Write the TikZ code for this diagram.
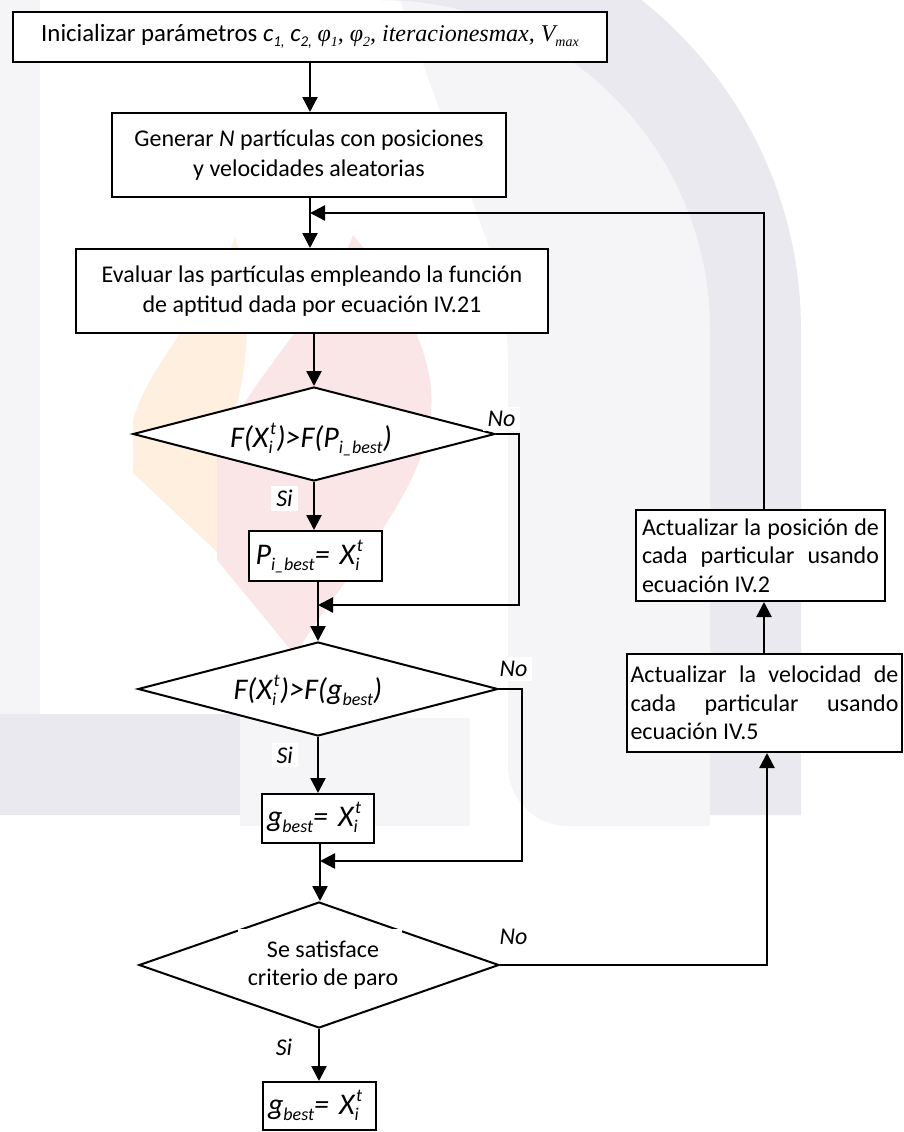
\documentclass[tikz,border=0pt]{standalone}
\usepackage{fontspec}
\setmainfont{Carlito}
\newfontfamily\timesface{Liberation Serif}
\usetikzlibrary{arrows.meta,shapes.geometric}

\definecolor{wmgray}{HTML}{E9E9EF}
\definecolor{wmpale}{HTML}{F5F5F8}
\definecolor{wmflame}{HTML}{FEEFDF}
\definecolor{wmrose}{HTML}{FBE6E7}

% lowered index in a smaller size
\newcommand\lowidx[2][18]{\raisebox{-0.2em}{\fontsize{#1}{#1}\selectfont #2}}
% X with stacked index i and exponent t
\newcommand\xit{X\makebox[8pt][l]{\rlap{\kern1.5pt\raisebox{0.42em}{\fontsize{18}{18}\selectfont t}}\raisebox{-0.2em}{\fontsize{18}{18}\selectfont i}}}

\begin{document}
\begin{tikzpicture}[x=1pt,y=-1pt,
  every node/.style={inner sep=0pt, outer sep=0pt},
  procbox/.style={draw=black, line width=2pt, fill=white, rectangle, outer sep=1pt},
  decbox/.style={draw=black, line width=2pt, fill=white, diamond, outer sep=1pt},
  flow/.style={line width=2.4pt, -{Triangle[length=15pt,width=15pt]}},
  bodytext/.style={font=\fontsize{24}{30}\selectfont},
  sidetext/.style={font=\fontsize{24}{28.3}\selectfont, align=justify},
  formula/.style={font=\fontsize{30}{36}\selectfont\itshape},
  tag/.style={font=\fontsize{24}{28}\selectfont\itshape, fill=white, inner xsep=5pt, inner ysep=4pt},
]
\useasboundingbox (0,0) rectangle (903,1132);

% ---------- faint emblem in the background ----------
\begin{scope}
\clip (0,0) rectangle (903,1132);
\fill[wmpale] (0,0) rectangle (40,714);
\fill[wmpale] (380,0) arc[start angle=270,end angle=360,radius=330]
  -- (710,826) {[rounded corners=60] -- (508,826) -- (508,300)} -- (400,0) -- cycle;
\fill[wmpale] (240,718) rectangle (470,826);
\fill[wmgray] (0,714) rectangle (240,815);
\fill[wmgray] (380,-91) arc[start angle=270,end angle=360,radius=421]
  -- (801,815) -- (710,815) -- (710,330)
  arc[start angle=360,end angle=270,radius=330] -- cycle;
\fill[wmflame] (235,236) .. controls (255,300) and (250,400) .. (217,450)
  -- (217,552) -- (133,473) -- (133,420) .. controls (150,360) and (215,300) .. cycle;
\fill[wmrose] (353,235) .. controls (400,290) and (440,360) .. (430,420)
  .. controls (420,500) and (340,580) .. (295,655) -- (217,560) -- (217,450)
  .. controls (250,380) and (330,300) .. cycle;
\end{scope}

% ---------- process boxes ----------
\node[procbox, font=\fontsize{24.8}{30}\selectfont, minimum width=594, minimum height=50] (b1) at (310,36.7)
  {Inicializar parámetros \textit{c\lowidx[15]{1,} c\lowidx[15]{2,}}
   {\timesface\itshape\fontsize{24}{30}\selectfont φ\lowidx[14]{1}, φ\lowidx[14]{2}, iteracionesmax, V\lowidx[14]{max}}};
\node[procbox, bodytext, align=center, minimum width=394, minimum height=84] (b2) at (309,155)
  {Generar \textit{N} partículas con posiciones\\y velocidades aleatorias};
\node[procbox, bodytext, align=center, minimum width=472, minimum height=84] (b3) at (312,291)
  {Evaluar las partículas empleando la función\\de aptitud dada por ecuación IV.21};

\node[decbox, minimum width=362, minimum height=94] (d1) at (314,434) {};
\node[formula, anchor=base] (f1) at (311,447.5) {F(\xit)>F(P\lowidx{i\_best})};

\node[procbox, formula, text width=120, align=left, inner xsep=6.5,
  text height=24, text depth=8, minimum height=50] (b4) at (315.5,556)
  {P\lowidx{i\_best}= \xit};

\node[decbox, minimum width=360, minimum height=94] (d2) at (318,689) {};
\node[formula, anchor=base] (f2) at (308,699) {F(\xit)>F(g\lowidx{best})};

\node[procbox, formula, text width=102, align=left, inner xsep=5,
  text height=24, text depth=8, minimum height=49] (b5) at (318,818.5)
  {g\lowidx{best}= \xit};

\node[decbox, minimum width=360, minimum height=126] (d3) at (319,965) {};
\fill[white] (238,928.5) rectangle (402,996);
\node[bodytext, font=\fontsize{24}{28.3}\selectfont, align=center] (f3) at (323,965)
  {Se satisface\\criterio de paro};

\node[procbox, formula, text width=103, align=left, inner xsep=5,
  text height=24, text depth=8, minimum height=48] (b6) at (319.5,1106)
  {g\lowidx{best}= \xit};

\node[procbox, sidetext, text width=237, inner xsep=6, minimum height=91] (b7) at (760.5,555.5)
  {\hyphenpenalty=10000 Actualizar la posición de\linebreak cada particular usando\linebreak ecuación IV.2};
\node[procbox, sidetext, text width=268, inner xsep=3.5, minimum height=98] (b8) at (764.5,703)
  {\hyphenpenalty=10000 Actualizar la velocidad de\linebreak cada particular usando\linebreak ecuación IV.5};

% ---------- branch labels ----------
\node[tag] (no1) at (501.5,419) {No};
\node[tag] (si1) at (284.5,498.5) {Si};
\node[tag] (no2) at (513.5,669) {No};
\node[tag] (si2) at (284.7,755) {Si};
\node[tag] (no3) at (513.5,936.5) {No};
\node[tag] (si3) at (284,1047.5) {Si};

% ---------- junctions and corners ----------
\coordinate (m0) at (310,213);
\coordinate (k0) at (764,213);
\coordinate (m1) at (318,605);
\coordinate (k1) at (519,605);
\coordinate (m2) at (320,861);
\coordinate (k2) at (522,861);
\coordinate (k3) at (767,965);

% ---------- connectors ----------
\draw[flow] (b1.south) -- (b1.south |- b2.north);
\draw[flow] (b2.south -| m0) -- (b3.north -| m0);
\draw[flow] (b7.north -| k0) -- (k0) -- (m0);
\draw[flow] (b3.south -| d1.north) -- (d1.north);
\draw[flow] (d1.south) -- (b4.north -| d1.south);
\draw[flow] (d1.east) -| (k1) -- (m1);
\draw[flow] (b4.south -| m1) -- (d2.north -| m1);
\draw[flow] (d2.south) -- (b5.north -| d2.south);
\draw[flow] (d2.east) -| (k2) -- (m2);
\draw[flow] (b5.south -| m2) -- (d3.north -| m2);
\draw[flow] (d3.south) -- (b6.north -| d3.south);
\draw[flow] (d3.east) -- (k3) -- (b8.south -| k3);
\draw[flow] (b8.north -| k0) -- (b7.south -| k0);
\end{tikzpicture}
\end{document}
